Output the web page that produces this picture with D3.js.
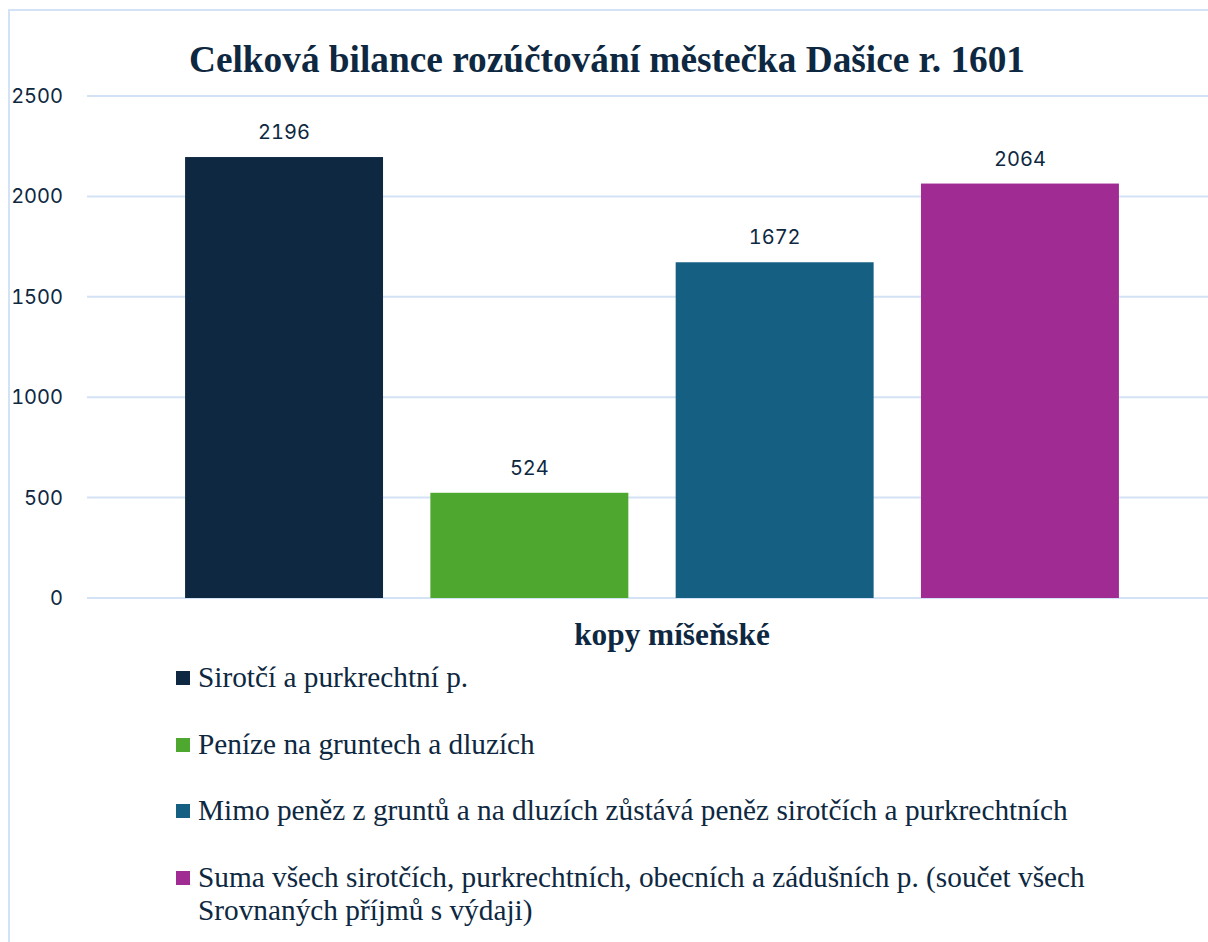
<!DOCTYPE html>
<html>
<head>
<meta charset="utf-8">
<script src="https://cdn.jsdelivr.net/npm/d3@7/dist/d3.min.js"></script>
<style>
  html, body { margin: 0; padding: 0; background: #fff; overflow: hidden; }
  .serif { font-family: "Liberation Serif", "Times New Roman", serif; }
  .sans { font-family: Inter, "Liberation Sans", sans-serif; font-variant-numeric: tabular-nums; }
</style>
</head>
<body>
<div class="chart"></div>
<script>
'use strict';

// chart data
var categories = [
  'Sirotčí a purkrechtní p.',
  'Peníze na gruntech a dluzích',
  'Mimo peněz z gruntů a na dluzích zůstává peněz sirotčích a purkrechtních',
  'Suma všech sirotčích, purkrechtních, obecních a zádušních p. (součet všech\nSrovnaných příjmů s výdaji)'
];
var values = [2196, 524, 1672, 2064];
var colors = ['#0e2841', '#4ea72e', '#156082', '#a02b93'];
var yTicks = [0, 500, 1000, 1500, 2000, 2500];
var titleText = 'Celková bilance rozúčtování městečka Dašice r. 1601';
var axisTitle = 'kopy míšeňské';

var width = 1208, height = 942;
var textColor = '#0e2841';
var gridColor = '#d3e2f5';

var svg = d3.select('.chart').append('svg')
  .attr('width', width).attr('height', height);

// chart frame (runs past the right / bottom edge)
svg.append('rect')
  .attr('x', 9).attr('y', 10)
  .attr('width', 1260).attr('height', 1000)
  .attr('fill', '#fff')
  .attr('stroke', gridColor).attr('stroke-width', 2);

var x = d3.scaleBand()
  .domain(d3.range(values.length))
  .range([161.4, 1142.6])
  .paddingInner(0.193)
  .paddingOuter(0.0965);

var y = d3.scaleLinear()
  .domain([0, 2500])
  .range([598, 96]);

// gridlines
svg.append('g').selectAll('line').data(yTicks).enter().append('line')
  .attr('x1', 87).attr('x2', width)
  .attr('y1', function(d) { return y(d); })
  .attr('y2', function(d) { return y(d); })
  .attr('stroke', gridColor).attr('stroke-width', 2);

// y axis labels
var yAxis = d3.axisLeft(y).tickValues(yTicks).tickFormat(d3.format('d')).tickSize(0).tickPadding(0);
var yg = svg.append('g').attr('transform', 'translate(63,0)').call(yAxis);
yg.select('.domain').remove();
yg.attr('font-family', null).attr('font-size', null);
yg.selectAll('text')
  .attr('class', 'sans')
  .attr('fill', textColor)
  .style('font-size', '20px');

// bars
svg.append('g').selectAll('rect').data(values).enter().append('rect')
  .attr('x', function(d, i) { return x(i); })
  .attr('width', x.bandwidth())
  .attr('y', function(d) { return y(d); })
  .attr('height', function(d) { return y(0) - y(d); })
  .attr('fill', function(d, i) { return colors[i]; });

// value labels
svg.append('g').selectAll('text').data(values).enter().append('text')
  .attr('class', 'sans')
  .attr('x', function(d, i) { return x(i) + x.bandwidth() / 2; })
  .attr('y', function(d) { return y(d) - 18; })
  .attr('text-anchor', 'middle')
  .attr('fill', textColor)
  .style('font-size', '20px')
  .text(function(d) { return d; });

// title
svg.append('text')
  .attr('class', 'serif')
  .attr('x', 607).attr('y', 72)
  .attr('text-anchor', 'middle')
  .attr('fill', textColor)
  .style('font-weight', 'bold')
  .style('font-size', '37.3px')
  .text(titleText);

// axis title
svg.append('text')
  .attr('class', 'serif')
  .attr('x', 672).attr('y', 645)
  .attr('text-anchor', 'middle')
  .attr('fill', textColor)
  .style('font-weight', 'bold')
  .style('font-size', '31.3px')
  .text(axisTitle);

// legend
var legendY = [678, 745, 811, 878];
var legend = svg.append('g').selectAll('g').data(categories).enter().append('g')
  .attr('transform', function(d, i) { return 'translate(176,' + legendY[i] + ')'; });

legend.append('rect')
  .attr('x', 0).attr('y', -7)
  .attr('width', 14).attr('height', 14)
  .attr('fill', function(d, i) { return colors[i]; });

legend.append('text')
  .attr('class', 'serif')
  .attr('x', 22).attr('y', 9)
  .attr('fill', textColor)
  .style('font-size', '29.3px')
  .each(function(d) {
    var t = d3.select(this);
    d.split('\n').forEach(function(line, k) {
      t.append('tspan').attr('x', 22).attr('dy', k === 0 ? 0 : 33).text(line);
    });
  });
</script>
</body>
</html>
